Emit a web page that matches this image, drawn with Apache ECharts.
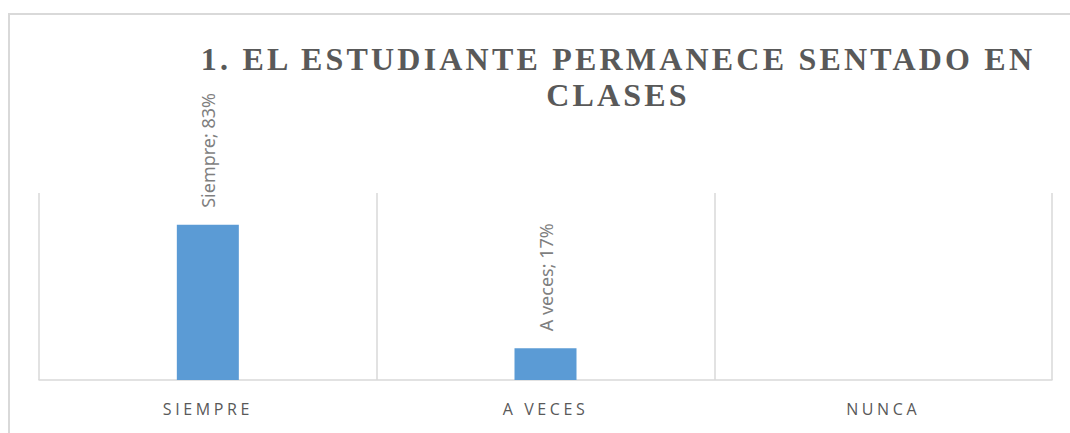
<!DOCTYPE html>
<html>
<head>
<meta charset="utf-8">
<script src="https://cdn.jsdelivr.net/npm/echarts@6/dist/echarts.min.js"></script>
<style>
html, body { margin: 0; padding: 0; background: #fff; }
#chart { width: 1070px; height: 433px; }
/* letter spacing for title (serif) and axis labels (Open Sans) */
#chart text[style*="Liberation Serif"] { letter-spacing: 3.2px; }
#chart text[style*="Open Sans"] { letter-spacing: 3.6px; }
</style>
</head>
<body>
<div id="chart"></div>
<script>
var titleText = '1. EL ESTUDIANTE PERMANECE SENTADO EN\nCLASES';
var categories = ['Siempre', 'A veces', 'Nunca'];
var values = [83, 17, 0];

var chart;

function init() {
    chart = echarts.init(document.getElementById('chart'), null, { renderer: 'svg' });
    chart.setOption(buildOption());
}

function buildOption() {
    return {
        animation: false,
        title: {
            text: titleText,
            left: 613,
            top: 36,
            textAlign: 'center',
            textStyle: {
                fontFamily: 'Liberation Serif',
                fontWeight: 'bold',
                fontSize: 32,
                lineHeight: 36,
                color: '#595959'
            }
        },
        graphic: [{
            type: 'rect',
            shape: { x: 9, y: 14, width: 1200, height: 600 },
            style: { fill: 'none', stroke: '#d9d9d9', lineWidth: 2 },
            silent: true
        }],
        grid: { left: 39, right: 18, top: 193, bottom: 53 },
        xAxis: {
            type: 'category',
            data: categories,
            axisLine: { lineStyle: { color: '#d9d9d9', width: 1.5 } },
            axisTick: { show: false },
            splitLine: { show: true, interval: 0, lineStyle: { color: '#d9d9d9', width: 1.5 } },
            axisLabel: {
                margin: 21,
                fontFamily: 'Open Sans',
                fontSize: 16,
                color: '#595959',
                formatter: function (v) { return v.toUpperCase(); }
            }
        },
        yAxis: {
            type: 'value',
            min: 0,
            max: 100,
            show: false,
            splitLine: { show: false }
        },
        series: [{
            type: 'bar',
            data: values,
            barWidth: 62,
            itemStyle: { color: '#5b9bd5' },
            label: {
                show: true,
                position: 'top',
                rotate: 90,
                align: 'left',
                verticalAlign: 'middle',
                distance: 17,
                fontFamily: 'Noto Sans',
                fontSize: 18,
                color: '#7f7f7f',
                formatter: function (p) {
                    if (!p.value) return '';
                    return p.name + '; ' + p.value + '%';
                }
            }
        }]
    };
}

init();
</script>
</body>
</html>
